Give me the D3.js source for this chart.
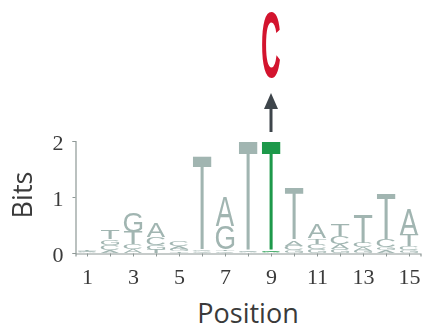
<!DOCTYPE html>
<html>
<head>
<meta charset="utf-8">
<script src="https://cdn.jsdelivr.net/npm/d3@7"></script>
<style>
    body { margin: 0; background: #fff; }
    svg { display: block; }
</style>
</head>
<body>
<div id="logo"></div>
<script>
(function () {
    'use strict';

    // information content (bits) per base, positions 1..15
    var positions = [1, 2, 3, 4, 5, 6, 7, 8, 9, 10, 11, 12, 13, 14, 15];
    var bitsA = [0.01, 0.05, 0.07, 0.24, 0.05, 0.02, 0.52, 0.01, 0.01, 0.10, 0.24, 0.09, 0.06, 0.05, 0.45];
    var bitsC = [0.01, 0.10, 0.08, 0.14, 0.08, 0.02, 0.03, 0.01, 0.01, 0.08, 0.09, 0.14, 0.08, 0.13, 0.07];
    var bitsG = [0.01, 0.10, 0.36, 0.08, 0.04, 0.01, 0.42, 0.01, 0.01, 0.05, 0.07, 0.07, 0.04, 0.05, 0.05];
    var bitsT = [0.02, 0.17, 0.22, 0.06, 0.03, 1.68, 0.03, 1.94, 1.94, 0.93, 0.10, 0.20, 0.50, 0.80, 0.20];
    var yTicks = [0, 1, 2];
    var xTickLabels = [1, 3, 5, 7, 9, 11, 13, 15];

    // highlighted position and the substituted base
    var mutPos = 9;
    var mutBase = 'C';

    var w = 424,
        h = 330,
        grey = '#a0b5b1',
        green = '#1b9848',
        red = '#d3142e',
        axisCol = '#8e9896',
        textCol = '#3a3a3a',
        letterFont = '"Liberation Sans", Arial, sans-serif';

    var x = d3.scaleLinear().domain([0.5, 15.5]).range([75.5, 420.5]);
    var y = d3.scaleLinear().domain([0, 2]).range([253, 141]);
    var colW = x(2) - x(1),
        letterW = colW * 0.8;

    var svg = d3.select('#logo')
        .append('svg')
        .attr('width', w)
        .attr('height', h);

    // tight glyph bounds from canvas, so letters can be stretched into boxes
    var ctx = document.createElement('canvas').getContext('2d');
    function glyphBox(ch, weight) {
        ctx.font = weight + ' 100px ' + letterFont;
        var m = ctx.measureText(ch);
        return {
            l: m.actualBoundingBoxLeft,
            r: m.actualBoundingBoxRight,
            a: m.actualBoundingBoxAscent,
            d: m.actualBoundingBoxDescent
        };
    }

    function drawLetter(g, ch, x0, y0, bw, bh, fill, weight) {
        if (bh <= 0) return;
        var b = glyphBox(ch, weight);
        var sx = bw / (b.l + b.r),
            sy = bh / (b.a + b.d);
        g.append('text')
            .attr('transform', 'translate(' + (x0 + b.l * sx) + ',' + (y0 + b.a * sy) + ') scale(' + sx + ',' + sy + ')')
            .attr('font-family', letterFont)
            .attr('font-weight', weight)
            .attr('font-size', 100)
            .attr('fill', fill)
            .text(ch);
    }

    var stacks = positions.map(function (p, i) {
        var col = [
            { base: 'A', bits: bitsA[i] },
            { base: 'C', bits: bitsC[i] },
            { base: 'G', bits: bitsG[i] },
            { base: 'T', bits: bitsT[i] }
        ];
        col.sort(function (a, b) { return a.bits - b.bits; });
        var acc = 0;
        col.forEach(function (d) { d.y0 = acc; acc += d.bits; d.y1 = acc; });
        return { pos: p, letters: col };
    });

    // group opacity keeps the stretched glyphs on greyscale antialiasing
    var logo = svg.append('g').attr('class', 'letters').attr('opacity', 0.99);
    stacks.forEach(function (s) {
        s.letters.forEach(function (d) {
            var top = y(d.y1), bot = y(d.y0);
            drawLetter(logo, d.base, x(s.pos) - letterW / 2, top, letterW, bot - top,
                s.pos === mutPos ? green : grey, 'normal');
        });
    });

    // axes
    var yAxis = svg.append('g')
        .attr('transform', 'translate(75.5,0)')
        .call(d3.axisLeft(y).tickValues(yTicks).tickSize(3).tickPadding(9).tickFormat(d3.format('d')));

    var xAxis = svg.append('g')
        .attr('transform', 'translate(0,253.5)')
        .call(d3.axisBottom(x).tickValues(positions).tickSize(3).tickPadding(12)
            .tickFormat(function (d) { return xTickLabels.indexOf(d) >= 0 ? d : ''; }));

    [yAxis, xAxis].forEach(function (a) {
        a.select('.domain').attr('stroke', axisCol).attr('stroke-width', 1.2);
        a.selectAll('.tick line').attr('stroke', axisCol);
        a.selectAll('.tick text')
            .attr('fill', textCol)
            .attr('font-family', '"Liberation Serif", serif')
            .attr('font-size', 22);
    });
    yAxis.selectAll('.tick text').attr('dy', '0.4em');

    svg.append('text')
        .attr('x', x(8))
        .attr('y', 323)
        .attr('text-anchor', 'middle')
        .attr('font-family', '"Open Sans", sans-serif')
        .attr('font-size', 27)
        .attr('fill', textCol)
        .text('Position');

    svg.append('text')
        .attr('transform', 'translate(32,' + (y(1) - 2) + ') rotate(-90)')
        .attr('text-anchor', 'middle')
        .attr('font-family', '"Open Sans", sans-serif')
        .attr('font-size', 27)
        .attr('fill', textCol)
        .text('Bits');

    // substitution marker above the highlighted column
    var mx = x(mutPos);
    var arrow = svg.append('g').attr('class', 'arrow');
    arrow.append('line')
        .attr('x1', mx).attr('x2', mx)
        .attr('y1', 132).attr('y2', 105)
        .attr('stroke', '#3e454b')
        .attr('stroke-width', 3);
    arrow.append('path')
        .attr('d', 'M' + mx + ',93L' + (mx + 7) + ',109L' + (mx - 7) + ',109Z')
        .attr('fill', '#3e454b');

    drawLetter(svg, mutBase, mx - 9, 12, 18, 66, red, 'bold');
})();
</script>
</body>
</html>
